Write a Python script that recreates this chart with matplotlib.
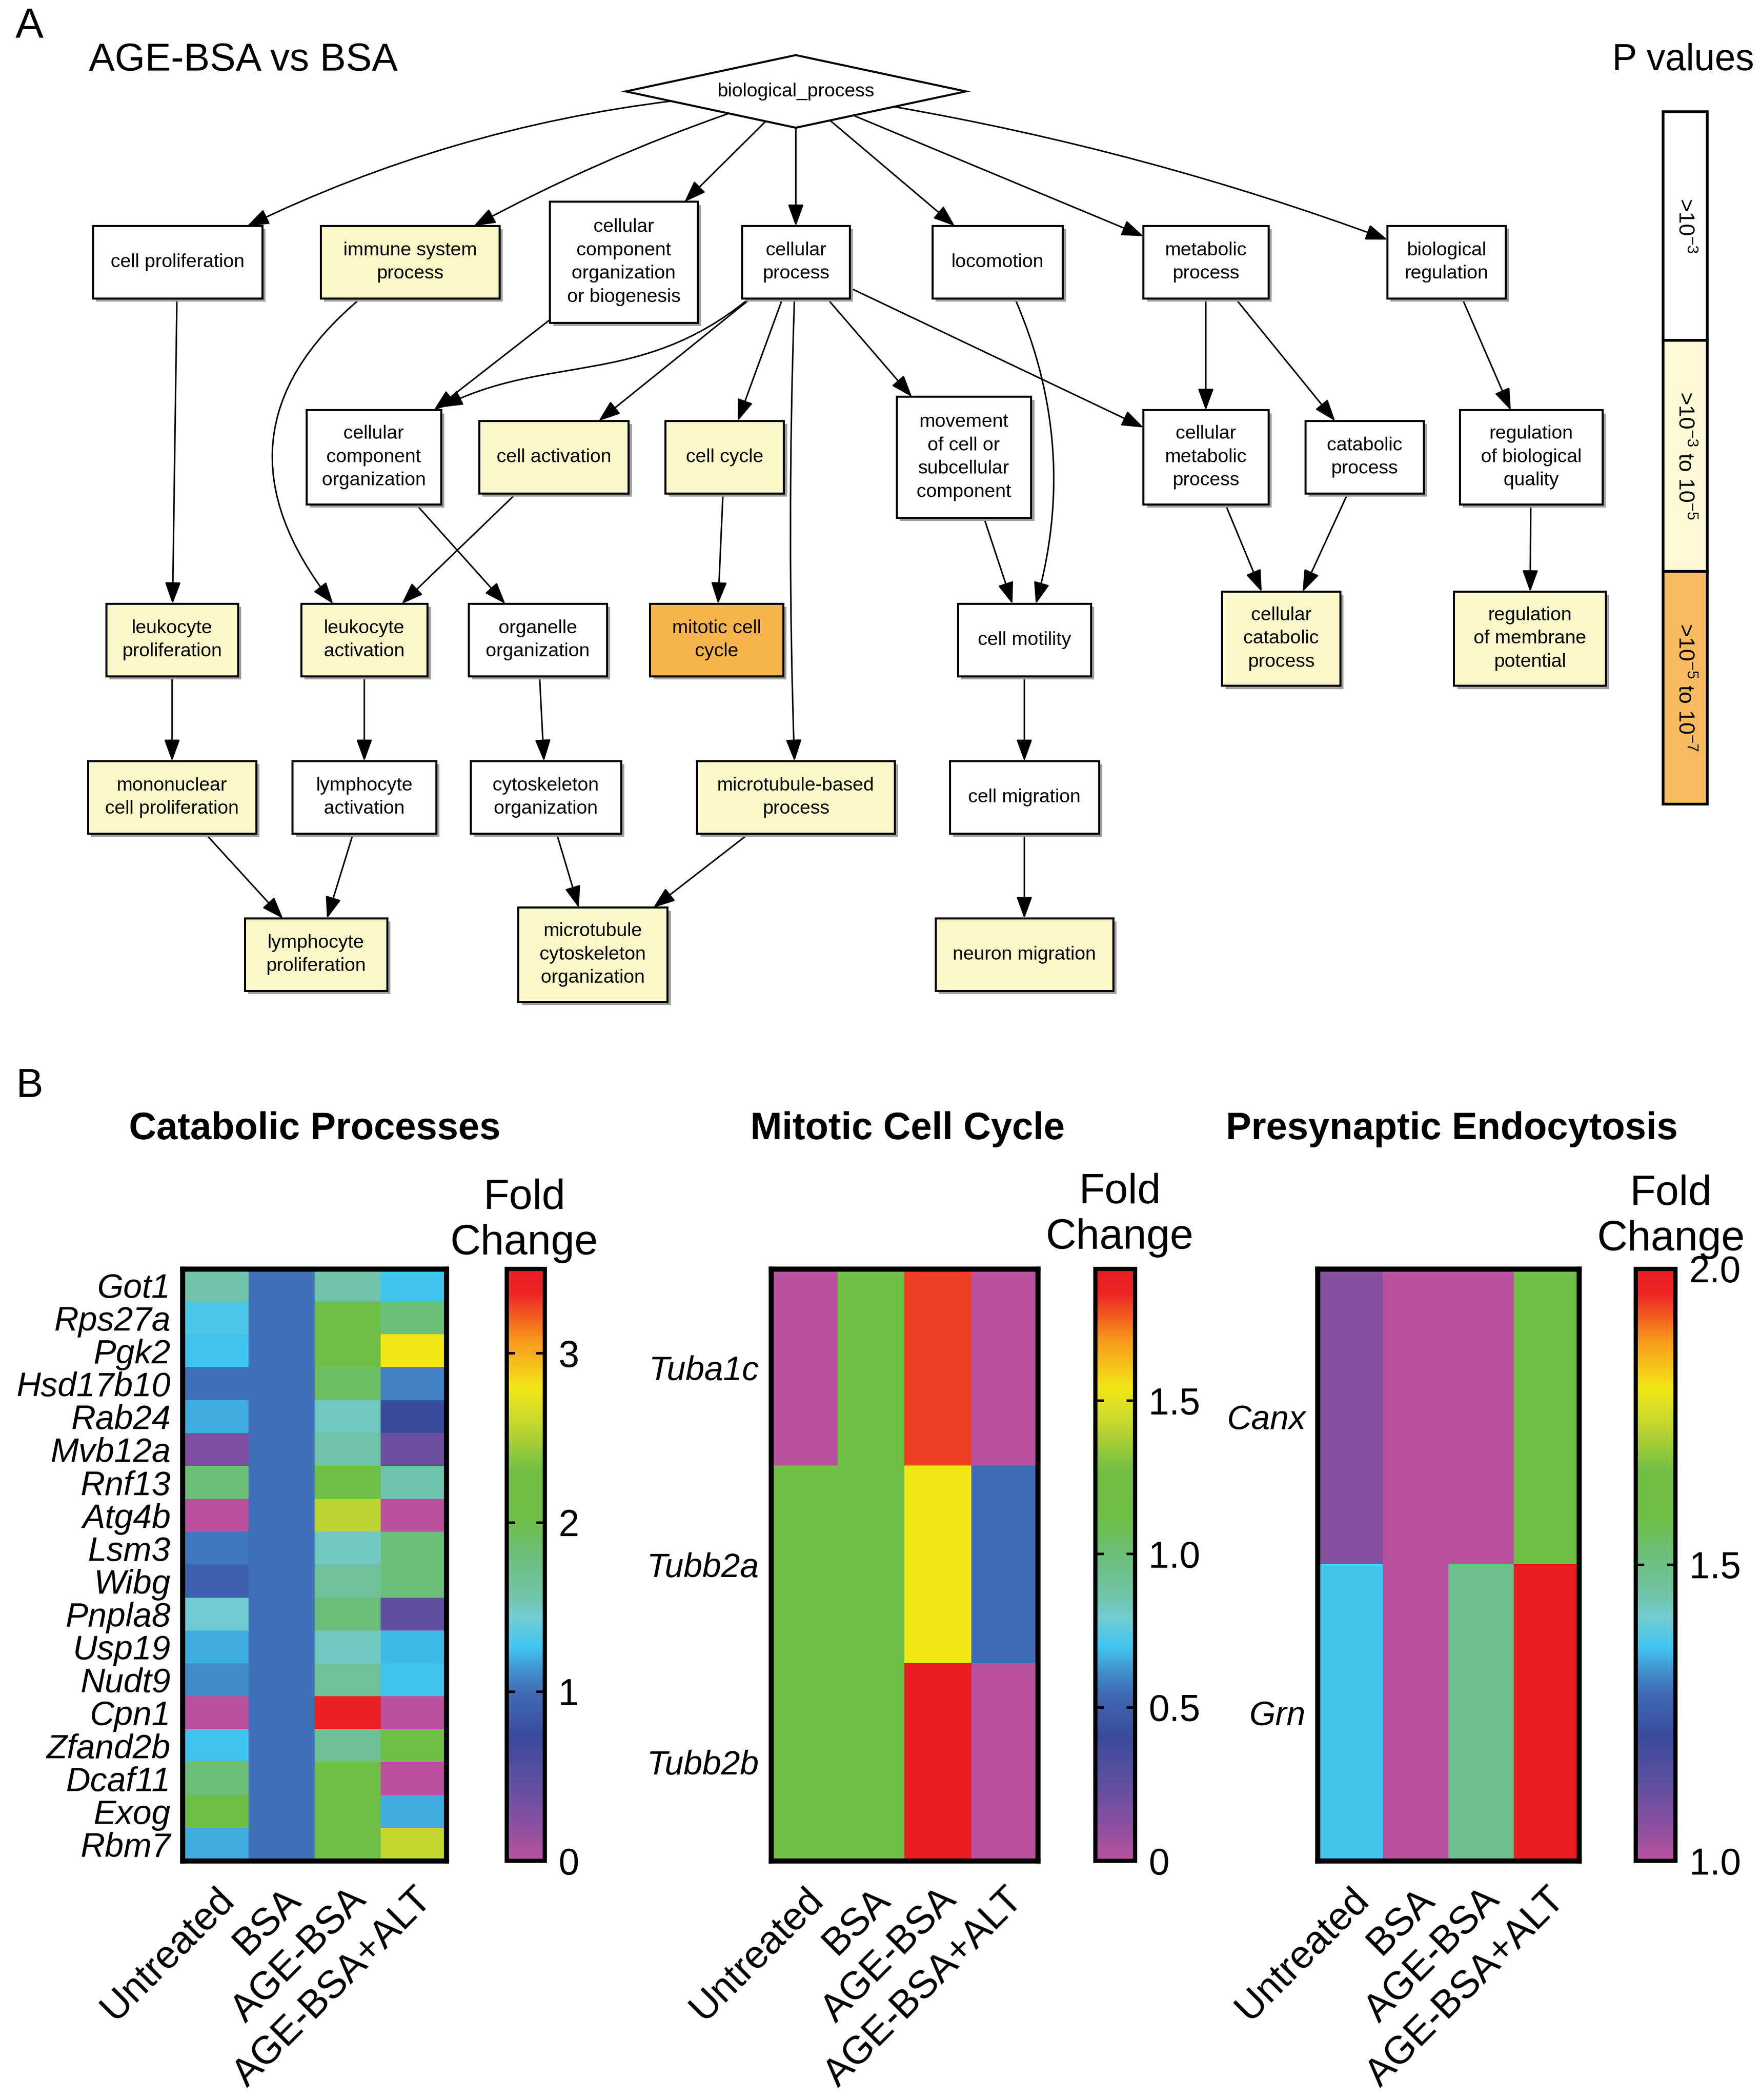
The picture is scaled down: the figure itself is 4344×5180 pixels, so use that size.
import numpy as np
import matplotlib
matplotlib.use('Agg')
import matplotlib.pyplot as plt
from matplotlib.colors import LinearSegmentedColormap
from matplotlib.patches import Rectangle, Polygon, FancyArrowPatch
from matplotlib.path import Path

plt.rcParams['font.family'] = ['Liberation Sans', 'DejaVu Sans']
plt.rcParams['mathtext.fontset'] = 'custom'
plt.rcParams['mathtext.rm'] = 'Liberation Sans'
plt.rcParams['mathtext.default'] = 'regular'

# ---------------- data: panel B heatmaps ----------------
conditions = ['Untreated', 'BSA', 'AGE-BSA', 'AGE-BSA+ALT']

catabolic_genes = ['Got1', 'Rps27a', 'Pgk2', 'Hsd17b10', 'Rab24', 'Mvb12a', 'Rnf13', 'Atg4b', 'Lsm3',
                   'Wibg', 'Pnpla8', 'Usp19', 'Nudt9', 'Cpn1', 'Zfand2b', 'Dcaf11', 'Exog', 'Rbm7']
catabolic_fc = np.array([
    [1.57, 1.0, 1.57, 1.26],
    [1.30, 1.0, 2.10, 1.80],
    [1.26, 1.0, 2.10, 2.80],
    [1.00, 1.0, 1.90, 1.07],
    [1.19, 1.0, 1.50, 0.73],
    [0.28, 1.0, 1.57, 0.39],
    [1.80, 1.0, 2.10, 1.55],
    [0.00, 1.0, 2.55, 0.00],
    [1.03, 1.0, 1.50, 1.80],
    [0.92, 1.0, 1.65, 1.80],
    [1.44, 1.0, 1.80, 0.46],
    [1.19, 1.0, 1.50, 1.24],
    [1.12, 1.0, 1.65, 1.26],
    [0.00, 1.0, 3.45, 0.00],
    [1.26, 1.0, 1.67, 2.10],
    [1.80, 1.0, 2.10, 0.00],
    [2.05, 1.0, 2.10, 1.19],
    [1.19, 1.0, 2.10, 2.58],
])

mitotic_genes = ['Tuba1c', 'Tubb2a', 'Tubb2b']
mitotic_fc = np.array([
    [0.00, 1.16, 1.81, 0.00],
    [1.16, 1.16, 1.54, 0.55],
    [1.16, 1.16, 1.93, 0.00],
])

presyn_genes = ['Canx', 'Grn']
presyn_fc = np.array([
    [1.07, 1.00, 1.00, 1.60],
    [1.365, 1.00, 1.49, 2.00],
])

# ---------------- data: panel A GO graph ----------------
go_terms = ['bp', 'cprolif', 'immune', 'ccoob', 'cproc', 'locomotion', 'metabolic', 'bioreg',
            'cco', 'cact', 'ccycle', 'movement', 'cmetab', 'catab', 'regbq',
            'leukprolif', 'leukact', 'organelle', 'mitotic', 'motility', 'ccatab', 'regmem',
            'mononuc', 'lymphact', 'cytoskel', 'mtbased', 'migration',
            'lymphprolif', 'mtcytoskel', 'neuron']
go_labels = ['biological_process', 'cell proliferation', 'immune system\nprocess',
             'cellular\ncomponent\norganization\nor biogenesis', 'cellular\nprocess', 'locomotion',
             'metabolic\nprocess', 'biological\nregulation',
             'cellular\ncomponent\norganization', 'cell activation', 'cell cycle',
             'movement\nof cell or\nsubcellular\ncomponent', 'cellular\nmetabolic\nprocess',
             'catabolic\nprocess', 'regulation\nof biological\nquality',
             'leukocyte\nproliferation', 'leukocyte\nactivation', 'organelle\norganization',
             'mitotic cell\ncycle', 'cell motility', 'cellular\ncatabolic\nprocess',
             'regulation\nof membrane\npotential',
             'mononuclear\ncell proliferation', 'lymphocyte\nactivation', 'cytoskeleton\norganization',
             'microtubule-based\nprocess', 'cell migration',
             'lymphocyte\nproliferation', 'microtubule\ncytoskeleton\norganization', 'neuron migration']
# p-value class: 0 = >1e-3, 1 = 1e-3..1e-5, 2 = 1e-5..1e-7
go_level = [0, 0, 1, 0, 0, 0, 0, 0,
            0, 1, 1, 0, 0, 0, 0,
            1, 1, 0, 2, 0, 1, 1,
            1, 0, 0, 1, 0,
            1, 1, 1]
go_edges = [('bp', 'cprolif'), ('bp', 'immune'), ('bp', 'ccoob'), ('bp', 'cproc'), ('bp', 'locomotion'),
            ('bp', 'metabolic'), ('bp', 'bioreg'),
            ('cprolif', 'leukprolif'), ('immune', 'leukact'), ('ccoob', 'cco'),
            ('cproc', 'cco'), ('cproc', 'cact'), ('cproc', 'ccycle'), ('cproc', 'movement'),
            ('cproc', 'cmetab'), ('cproc', 'mtbased'),
            ('locomotion', 'motility'), ('metabolic', 'cmetab'), ('metabolic', 'catab'), ('bioreg', 'regbq'),
            ('cco', 'organelle'), ('cact', 'leukact'), ('ccycle', 'mitotic'), ('movement', 'motility'),
            ('cmetab', 'ccatab'), ('catab', 'ccatab'), ('regbq', 'regmem'),
            ('leukprolif', 'mononuc'), ('leukact', 'lymphact'), ('organelle', 'cytoskel'),
            ('motility', 'migration'), ('mononuc', 'lymphprolif'), ('lymphact', 'lymphprolif'),
            ('cytoskel', 'mtcytoskel'), ('mtbased', 'mtcytoskel'), ('migration', 'neuron')]
pval_labels = ['>10$^{-3}$', '>10$^{-3}$ to 10$^{-5}$', '>10$^{-5}$ to 10$^{-7}$']

# ---------------- layout (page units: 1310 x 1562) ----------------
node_box = {  # cx, cy, w, h
    'bp': (592, 68, 253, 54),
    'cprolif': (132, 195, 126, 54), 'immune': (305, 195, 133, 54), 'ccoob': (464, 195, 110, 90),
    'cproc': (592, 195, 80, 54), 'locomotion': (742, 195, 97, 54), 'metabolic': (897, 195, 93, 54),
    'bioreg': (1076, 195, 88, 54),
    'cco': (278, 340, 100, 70), 'cact': (412, 340, 111, 54), 'ccycle': (539, 340, 88, 54),
    'movement': (717, 340, 100, 90), 'cmetab': (897, 340, 93, 70), 'catab': (1015, 340, 88, 54),
    'regbq': (1139, 340, 106, 70),
    'leukprolif': (128, 476, 98, 54), 'leukact': (271, 476, 94, 54), 'organelle': (400, 476, 103, 54),
    'mitotic': (533, 476, 99, 54), 'motility': (762, 476, 99, 54), 'ccatab': (953, 475, 88, 70),
    'regmem': (1138, 475, 113, 70),
    'mononuc': (128, 593, 125, 54), 'lymphact': (271, 593, 107, 54), 'cytoskel': (406, 593, 112, 54),
    'mtbased': (592, 593, 147, 54), 'migration': (762, 593, 111, 54),
    'lymphprolif': (235, 710, 106, 54), 'mtcytoskel': (441, 710, 111, 70), 'neuron': (762, 710, 132, 54),
}
edge_rad = {('bp', 'cprolif'): 0.12, ('bp', 'immune'): 0.06, ('bp', 'bioreg'): -0.06,
            ('immune', 'leukact'): 0.6, ('cproc', 'mtbased'): 0.02,
            ('locomotion', 'motility'): -0.22}
# S-shaped edge drawn as a cubic curve
edge_path = {('cproc', 'cco'): [(556, 223), (476, 288), (407, 263), (328, 303)]}
level_colors = ['white', '#FAF7C8', '#F8B44C']
legend_colors = ['white', '#FEF9D6', '#F8BA5F']

fold_cmap = LinearSegmentedColormap.from_list('fold', [
    (0.00, '#B9519F'), (0.06, '#8A50A0'), (0.13, '#5F4FA0'), (0.21, '#3A4A9C'), (0.28, '#3F69B5'),
    (0.32, '#4190CC'), (0.36, '#40C4F0'), (0.41, '#72CCD3'), (0.45, '#70C4A8'), (0.51, '#6CBE7E'),
    (0.58, '#6FBE46'), (0.66, '#72BE45'), (0.74, '#C5D72E'), (0.80, '#F2E716'), (0.88, '#F8981D'),
    (0.96, '#EC2424'), (1.00, '#EC1D24')])

fig = plt.figure(figsize=(14.48, 17.2667), dpi=300)
bg = fig.add_axes([0, 0, 1, 1])
bg.set_xlim(0, 1310)
bg.set_ylim(1562, 0)
bg.axis('off')

# ---------------- panel A ----------------
bg.text(22, 20, 'A', fontsize=25, ha='center', va='center')
bg.text(66, 45, 'AGE-BSA vs BSA', fontsize=23, ha='left', va='center')
bg.text(1252, 45, 'P values', fontsize=22, ha='center', va='center')

patches = {}
for term, label, lev in zip(go_terms, go_labels, go_level):
    cx, cy, w, h = node_box[term]
    if term == 'bp':
        p = Polygon([(cx - w / 2, cy), (cx, cy - h / 2), (cx + w / 2, cy), (cx, cy + h / 2)],
                    closed=True, fc='white', ec='black', lw=1.2, zorder=3)
    else:
        sh = Rectangle((cx - w / 2 + 2.5, cy - h / 2 + 2.5), w, h, fc='#a0a0a0', ec='none', zorder=2)
        bg.add_patch(sh)
        p = Rectangle((cx - w / 2, cy - h / 2), w, h, fc=level_colors[lev], ec='black', lw=1.2, zorder=3)
    bg.add_patch(p)
    patches[term] = p
    bg.text(cx, cy, label, fontsize=11.3, ha='center', va='center', linespacing=1.4, zorder=4)

astyle = '-|>,head_length=0.55,head_width=0.2'
for a, b in go_edges:
    if (a, b) in edge_path:
        verts = edge_path[(a, b)]
        arr = FancyArrowPatch(path=Path(verts, [Path.MOVETO, Path.CURVE4, Path.CURVE4, Path.CURVE4]),
                              arrowstyle=astyle, mutation_scale=20, lw=0.9, color='black', zorder=1)
    else:
        pa, pb = node_box[a], node_box[b]
        arr = FancyArrowPatch((pa[0], pa[1]), (pb[0], pb[1]), patchA=patches[a], patchB=patches[b],
                              shrinkA=0, shrinkB=0, arrowstyle=astyle, mutation_scale=20,
                              connectionstyle='arc3,rad=%s' % edge_rad.get((a, b), 0.0),
                              lw=0.9, color='black', zorder=1)
    bg.add_patch(arr)

seg_top = [83, 253, 425]
seg_h = [170, 172, 173]
for i, lab in enumerate(pval_labels):
    bg.add_patch(Rectangle((1237, seg_top[i]), 33, seg_h[i], fc=legend_colors[i], ec='black', lw=1.6, zorder=3))
    bg.text(1253.5, seg_top[i] + seg_h[i] / 2, lab, rotation=-90, fontsize=13, ha='center', va='center', zorder=4)

# ---------------- panel B ----------------
bg.text(22, 808, 'B', fontsize=24, ha='center', va='center')

panels = [
    ('Catabolic Processes', catabolic_genes, catabolic_fc, 0.0, 3.5, [0, 1, 2, 3], ['0', '1', '2', '3'],
     [0.1036, 0.1139, 0.1499, 0.2819], [0.2878, 0.1139, 0.0216, 0.2819], (234, 840), (390, 908)),
    ('Mitotic Cell Cycle', mitotic_genes, mitotic_fc, 0.0, 1.93, [0, 0.5, 1.0, 1.5], ['0', '0.5', '1.0', '1.5'],
     [0.4378, 0.1139, 0.1515, 0.2819], [0.6220, 0.1139, 0.0226, 0.2819], (675, 840), (833, 904)),
    ('Presynaptic Endocytosis', presyn_genes, presyn_fc, 1.0, 2.0, [1.0, 1.5, 2.0], ['1.0', '1.5', '2.0'],
     [0.7482, 0.1139, 0.1485, 0.2819], [0.9289, 0.1139, 0.0226, 0.2819], (1080, 840), (1243, 905)),
]

for title, genes, vals, vmin, vmax, ticks, tlabels, hpos, cpos, tpos, fpos in panels:
    ax = fig.add_axes(hpos)
    im = ax.imshow(vals, cmap=fold_cmap, vmin=vmin, vmax=vmax, aspect='auto', interpolation='nearest')
    ax.set_xticks(range(len(conditions)))
    ax.set_xticklabels(conditions, rotation=45, ha='right', va='top', rotation_mode='anchor', fontsize=23)
    ax.set_yticks(range(len(genes)))
    ax.set_yticklabels(genes, fontsize=20, style='italic')
    ax.tick_params(length=0, pad=7)
    ax.tick_params(axis='x', pad=12)
    for s in ax.spines.values():
        s.set_linewidth(3)

    cax = fig.add_axes(cpos)
    cb = fig.colorbar(im, cax=cax)
    cb.set_ticks(ticks)
    cb.set_ticklabels(tlabels)
    cb.outline.set_linewidth(2.5)
    cb.ax.minorticks_off()
    cb.ax.tick_params(direction='in', left=True, right=True, labelleft=False, labelright=True,
                      length=5, width=1.5, labelsize=22, pad=8)

    bg.text(tpos[0], tpos[1], title, fontsize=22.5, fontweight='bold', ha='center', va='center')
    bg.text(fpos[0], fpos[1], 'Fold\nChange', fontsize=25, ha='center', va='center', linespacing=1.2)

fig.savefig('out.png', dpi=300)
